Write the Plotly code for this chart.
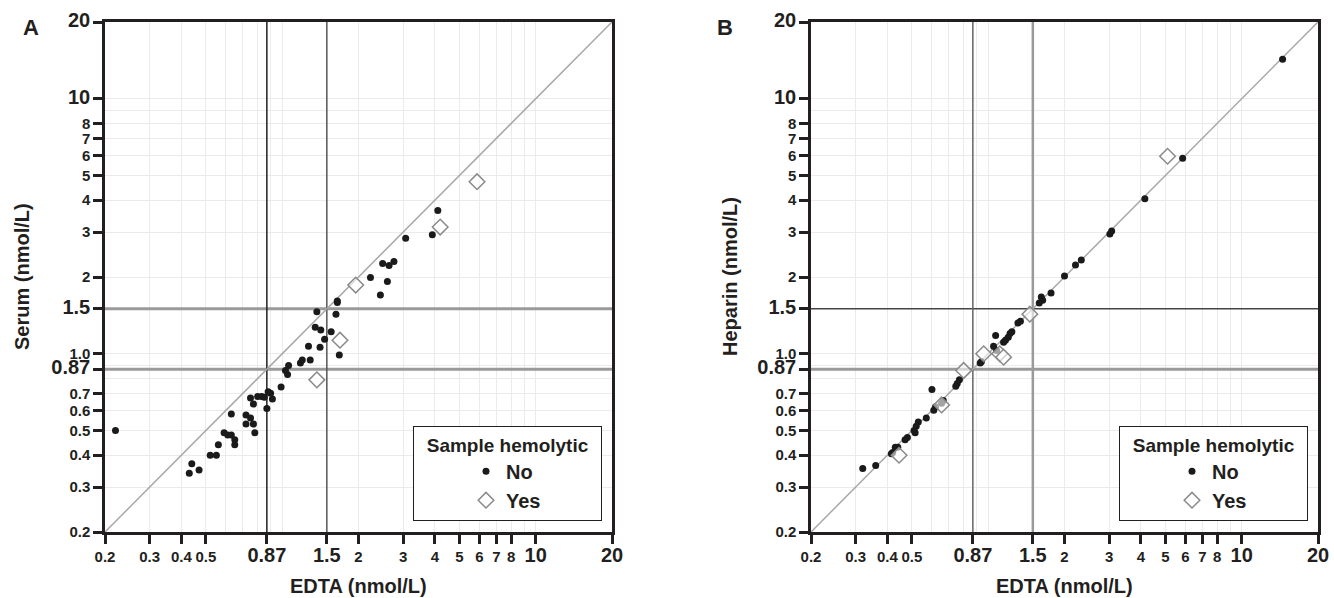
import numpy as np
import plotly.graph_objects as go

# ---------------- data ----------------
# Panel A: Serum vs EDTA
A_NO_EDTA = [0.22, 0.43, 0.44, 0.47, 0.52, 0.55, 0.56, 0.59, 0.61, 0.63, 0.63, 0.65, 0.65,
             0.72, 0.72, 0.75, 0.77, 0.78, 0.75, 0.77, 0.80, 0.83, 0.85, 0.87, 0.88, 0.90,
             0.915, 0.99, 1.03, 1.05, 1.06, 1.18, 1.20, 1.29, 1.27, 1.41, 1.35, 1.42, 1.37,
             1.47, 1.56, 1.63, 1.65, 1.65, 1.68, 2.44, 2.23, 2.49, 2.64, 2.76, 2.60, 3.07,
             3.91, 4.11]
A_NO_SERUM = [0.50, 0.34, 0.37, 0.35, 0.40, 0.40, 0.44, 0.49, 0.48, 0.58, 0.48, 0.46, 0.44,
              0.575, 0.53, 0.56, 0.53, 0.49, 0.67, 0.635, 0.68, 0.68, 0.675, 0.61, 0.71, 0.70,
              0.665, 0.74, 0.86, 0.83, 0.90, 0.92, 0.945, 0.945, 1.07, 1.06, 1.27, 1.24, 1.46,
              1.14, 1.22, 1.43, 1.59, 1.61, 0.99, 1.70, 1.99, 2.26, 2.22, 2.30, 1.92, 2.84,
              2.93, 3.65]
A_YES_EDTA = [1.95, 4.20, 5.87, 1.69, 1.37]
A_YES_SERUM = [1.86, 3.14, 4.73, 1.13, 0.79]

# Panel B: Heparin vs EDTA
B_NO_EDTA = [14.5, 5.85, 4.15, 3.02, 3.07, 2.33, 2.21, 2.0, 1.77, 1.62, 1.64, 1.59, 1.34,
             1.31, 1.24, 1.22, 1.20, 1.17, 1.15, 1.07, 1.05, 1.08, 0.93, 0.94, 0.77, 0.755,
             0.745, 0.60, 0.665, 0.655, 0.62, 0.61, 0.57, 0.53, 0.52, 0.51, 0.515, 0.48,
             0.47, 0.43, 0.44, 0.42, 0.415, 0.32, 0.36]
B_NO_HEPARIN = [14.3, 5.85, 4.05, 2.95, 3.03, 2.33, 2.23, 2.02, 1.73, 1.67, 1.62, 1.58, 1.34,
                1.32, 1.22, 1.20, 1.16, 1.13, 1.11, 1.18, 1.07, 1.03, 0.92, 0.93, 0.79, 0.765,
                0.745, 0.725, 0.655, 0.64, 0.62, 0.60, 0.56, 0.54, 0.52, 0.50, 0.49, 0.47,
                0.46, 0.43, 0.43, 0.41, 0.405, 0.355, 0.365]
B_YES_EDTA = [5.1, 1.46, 1.11, 1.15, 0.96, 0.80, 0.655, 0.445]
B_YES_HEPARIN = [5.95, 1.43, 1.00, 0.97, 1.00, 0.86, 0.63, 0.40]

AXIS_RANGE = [0.2, 20]          # both axes, log scale; also the identity line
CUTOFFS = [0.87, 1.5]

X_TICKS = [0.2, 0.3, 0.4, 0.5, 0.87, 1.5, 2, 3, 4, 5, 6, 7, 8, 10, 20]
X_TICK_LABELS = ["0.2", "0.3", "0.4", "0.5", "0.87", "1.5", "2", "3", "4", "5", "6", "7", "8", "10", "20"]
Y_TICKS = [0.2, 0.3, 0.4, 0.5, 0.6, 0.7, 0.87, 1.0, 1.5, 2, 3, 4, 5, 6, 7, 8, 10, 20]
Y_TICK_LABELS = ["0.2", "0.3", "0.4", "0.5", "0.6", "0.7", "0.87", "1.0", "1.5", "2", "3", "4",
                 "5", "6", "7", "8", "10", "20"]
BIG_LABELS = ["0.87", "1.5", "10", "20"]
GRID_VALUES = [0.2, 0.3, 0.4, 0.5, 0.6, 0.7, 0.8, 0.9, 1, 2, 3, 4, 5, 6, 7, 8, 9, 10, 20]

# ---------------- styling ----------------
W, H = 1334, 598
FONT = "Liberation Sans, Arial, Helvetica, sans-serif"
INK = "#231f20"
SMALL = 15
BIG = 20


def fmt(labels):
    return [f'<span style="font-size:{BIG}px">{t}</span>' if t in BIG_LABELS else t for t in labels]


def xd(a, b):
    return [a / W, b / W]


def yd(top, bottom):
    return [1 - bottom / H, 1 - top / H]


axis_common = dict(
    type="log",
    range=[np.log10(AXIS_RANGE[0]), np.log10(AXIS_RANGE[1])],
    showline=True, linecolor=INK, linewidth=2.5, mirror=True,
    ticks="outside", ticklen=9, tickwidth=2.5, tickcolor=INK,
    tickfont=dict(family=FONT, size=SMALL, color=INK, weight="bold"),
    showgrid=True, gridcolor="#ebebeb", gridwidth=1,
    zeroline=False, automargin=False,
    minor=dict(tickmode="array", tickvals=GRID_VALUES, showgrid=True,
               gridcolor="#ebebeb", gridwidth=1, ticks=""),
)

fig = go.Figure()

# reference (cut-off) line styles per panel: vertical / horizontal, one per cutoff
line_styles = {
    "A": {"v": [("#231f20", 1.5), ("#555555", 1.5)], "h": [("#9a9a9a", 3), ("#9a9a9a", 3)]},
    "B": {"v": [("#666666", 1.5), ("#9a9a9a", 2.5)], "h": [("#9a9a9a", 3), ("#444444", 1.5)]},
}

panels = [
    ("A", "x", "y", "legend", A_NO_EDTA, A_NO_SERUM, A_YES_EDTA, A_YES_SERUM),
    ("B", "x2", "y2", "legend2", B_NO_EDTA, B_NO_HEPARIN, B_YES_EDTA, B_YES_HEPARIN),
]

for key, xa, ya, lg, nx, ny, yx, yy in panels:
    for i, c in enumerate(CUTOFFS):
        col, wid = line_styles[key]["h"][i]
        fig.add_trace(go.Scatter(x=AXIS_RANGE, y=[c, c], mode="lines", xaxis=xa, yaxis=ya,
                                 line=dict(color=col, width=wid), showlegend=False,
                                 hoverinfo="skip"))
    for i, c in enumerate(CUTOFFS):
        col, wid = line_styles[key]["v"][i]
        fig.add_trace(go.Scatter(x=[c, c], y=AXIS_RANGE, mode="lines", xaxis=xa, yaxis=ya,
                                 line=dict(color=col, width=wid), showlegend=False,
                                 hoverinfo="skip"))
    fig.add_trace(go.Scatter(x=AXIS_RANGE, y=AXIS_RANGE, mode="lines", xaxis=xa, yaxis=ya,
                             line=dict(color="#a8a8a8", width=1.5), showlegend=False,
                             hoverinfo="skip"))
    fig.add_trace(go.Scatter(x=nx, y=ny, mode="markers", name="No", xaxis=xa, yaxis=ya,
                             legend=lg,
                             marker=dict(symbol="circle", size=7, color="#1a1a1a",
                                         line=dict(width=0))))
    fig.add_trace(go.Scatter(x=yx, y=yy, mode="markers", name="Yes", xaxis=xa, yaxis=ya,
                             legend=lg,
                             marker=dict(symbol="diamond", size=12, color="rgba(255,255,255,0.6)",
                                         line=dict(width=1.5, color="#8a8a8a"))))

fig.update_layout(
    width=W, height=H,
    margin=dict(l=0, r=0, t=0, b=0),
    paper_bgcolor="white", plot_bgcolor="white",
    font=dict(family=FONT, color=INK),
    xaxis=dict(axis_common, domain=xd(105, 612), anchor="y",
               tickmode="array", tickvals=X_TICKS, ticktext=fmt(X_TICK_LABELS)),
    yaxis=dict(axis_common, domain=yd(22, 532), anchor="x",
               tickmode="array", tickvals=Y_TICKS, ticktext=fmt(Y_TICK_LABELS)),
    xaxis2=dict(axis_common, domain=xd(811, 1318), anchor="y2",
                tickmode="array", tickvals=X_TICKS, ticktext=fmt(X_TICK_LABELS)),
    yaxis2=dict(axis_common, domain=yd(22, 532), anchor="x2",
                tickmode="array", tickvals=Y_TICKS, ticktext=fmt(Y_TICK_LABELS)),
    showlegend=True,
)

legend_common = dict(
    title=dict(text="&nbsp;&nbsp;Sample hemolytic&nbsp;&nbsp;", side="top center",
               font=dict(family=FONT, size=19, color=INK, weight="bold")),
    font=dict(family=FONT, size=20, color=INK, weight="bold"),
    bgcolor="white", bordercolor="#231f20", borderwidth=1,
    xanchor="right", yanchor="bottom", indentation=52, itemsizing="trace",
    tracegroupgap=0,
)
fig.update_layout(
    legend=dict(legend_common, x=602 / W, y=1 - 521 / H),
    legend2=dict(legend_common, x=1308 / W, y=1 - 521 / H),
)

# axis titles and panel letters
ann = [
    dict(text="EDTA (nmol/L)", x=358.5 / W, y=1 - 586 / H),
    dict(text="EDTA (nmol/L)", x=1064.5 / W, y=1 - 586 / H),
    dict(text="Serum (nmol/L)", x=22 / W, y=1 - 277 / H, textangle=-90),
    dict(text="Heparin (nmol/L)", x=730 / W, y=1 - 277 / H, textangle=-90),
]
for a in ann:
    fig.add_annotation(xref="paper", yref="paper", showarrow=False, xanchor="center",
                       yanchor="middle", font=dict(family=FONT, size=20, color=INK, weight="bold"),
                       **a)
for letter, x in [("A", 31), ("B", 725)]:
    fig.add_annotation(xref="paper", yref="paper", showarrow=False, text=letter,
                       x=x / W, y=1 - 28 / H, xanchor="center", yanchor="middle",
                       font=dict(family=FONT, size=22, color=INK, weight="bold"))

fig.write_html("out.html", config={"displayModeBar": False},
               post_script="document.body.style.margin='0';document.body.style.overflow='hidden';")
